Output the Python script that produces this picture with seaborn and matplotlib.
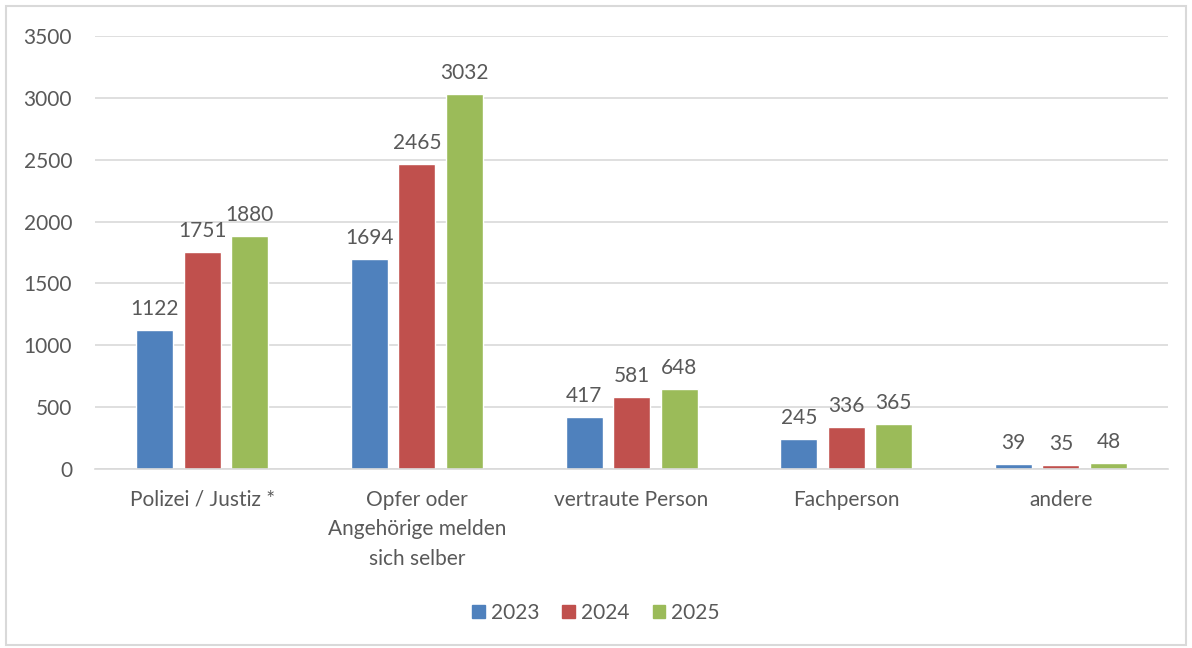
import pandas as pd
import matplotlib.pyplot as plt
import seaborn as sns
from matplotlib.patches import Rectangle

categories = ['Polizei / Justiz *', 'Opfer oder\nAngehörige melden\nsich selber',
              'vertraute Person', 'Fachperson', 'andere']
years = ['2023', '2024', '2025']
values_2023 = [1122, 1694, 417, 245, 39]
values_2024 = [1751, 2465, 581, 336, 35]
values_2025 = [1880, 3032, 648, 365, 48]
colors = ['#4F81BD', '#C0504D', '#9BBB59']

rows = []
for year, vals in zip(years, [values_2023, values_2024, values_2025]):
    for cat, v in zip(categories, vals):
        rows.append({'Kategorie': cat, 'Jahr': year, 'Anzahl': v})
df = pd.DataFrame(rows)

sns.set_theme(style='white')
plt.rcParams['font.family'] = ['Lato', 'DejaVu Sans']
text_col = '#595959'
fs = 15

fig = plt.figure(figsize=(11.92, 6.48), dpi=100)
ax = fig.add_axes([0.0797, 0.2762, 0.9003, 0.6682])

sns.barplot(data=df, x='Kategorie', y='Anzahl', hue='Jahr', palette=colors,
            width=0.664, gap=0.22, ax=ax, saturation=1, legend=True)

# value labels over bars
for cont in ax.containers:
    ax.bar_label(cont, fmt='%d', padding=8, fontsize=fs, color=text_col)

ax.set_ylim(0, 3500)
ax.set_xlim(-0.5, 4.5)
ax.set_yticks(range(0, 3501, 500))
ax.yaxis.grid(True, color='#D9D9D9', linewidth=1.2)
ax.set_axisbelow(True)
for s in ['top', 'right', 'left']:
    ax.spines[s].set_visible(False)
ax.spines['bottom'].set_color('#D9D9D9')
ax.spines['bottom'].set_linewidth(1.2)
ax.set_xlabel('')
ax.set_ylabel('')
ax.tick_params(axis='y', labelsize=fs, colors=text_col, length=0, pad=16.5)
ax.tick_params(axis='x', labelsize=fs, colors=text_col, length=0, pad=15)
for lab in ax.get_xticklabels():
    lab.set_linespacing(1.6)
    lab.set_horizontalalignment('center')

ax.get_legend().remove()
handles = [Rectangle((0, 0), 1, 1, color=c) for c in colors]
fig.legend(handles, years, loc='center', bbox_to_anchor=(0.5, 0.054), ncol=3,
           frameon=False, fontsize=fs, handlelength=0.6, handleheight=0.6,
           handletextpad=0.3, columnspacing=1.1, labelcolor=text_col)

# light chart border
fig.patches.append(Rectangle((0.005, 0.005), 0.99, 0.985, transform=fig.transFigure,
                             fill=False, edgecolor='#D9D9D9', linewidth=1.5))

fig.savefig('out.png', dpi=100)
